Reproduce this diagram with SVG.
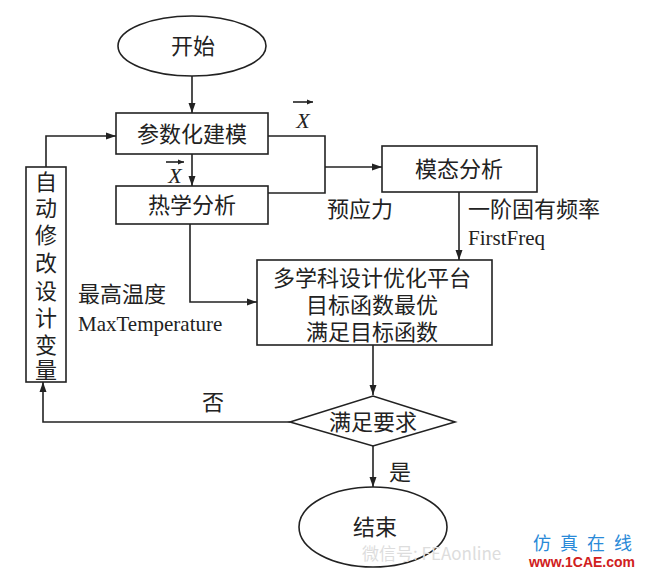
<svg xmlns="http://www.w3.org/2000/svg" width="646" height="571" viewBox="0 0 646 571">
<defs>
<marker id="ar" viewBox="0 0 10 10" refX="10" refY="5" markerWidth="10" markerHeight="10" markerUnits="userSpaceOnUse" orient="auto"><path d="M0,1.5 L10,5 L0,8.5 Z" fill="#222"/></marker>
<marker id="vx" viewBox="0 0 10 10" refX="10" refY="5" markerWidth="6" markerHeight="6" markerUnits="userSpaceOnUse" orient="auto"><path d="M0,1 L10,5 L0,9 Z" fill="#222"/></marker>
<style>
.s{fill:#fff;stroke:#222;stroke-width:1.6}
.c{fill:none;stroke:#222;stroke-width:1.6}
.t{font-family:"Liberation Serif","Noto Sans CJK SC",serif;font-size:22px;fill:#222}
.m{text-anchor:middle;dominant-baseline:central}
.x{font-family:"Liberation Serif",serif;font-style:italic;font-size:22px;fill:#222}
</style>
</defs>
<rect width="646" height="571" fill="#fff"/>
<g id="connectors">
<path class="c" d="M192,76 V113" marker-end="url(#ar)"/>
<path class="c" d="M192,154 V186" marker-end="url(#ar)"/>
<path class="c" d="M268,136 H325 V193 H268"/>
<path class="c" d="M325,167 H382" marker-end="url(#ar)"/>
<path class="c" d="M459,192 V260" marker-end="url(#ar)"/>
<path class="c" d="M190,224 V302 H257" marker-end="url(#ar)"/>
<path class="c" d="M373,345 V395" marker-end="url(#ar)"/>
<path class="c" d="M290,422 H43 V382" marker-end="url(#ar)"/>
<path class="c" d="M46,167 V136 H116" marker-end="url(#ar)"/>
<path class="c" d="M373,445 V487" marker-end="url(#ar)"/>
<text class="x" x="303" y="128" text-anchor="middle">X</text>
<path class="c" d="M293,102 H313" stroke-width="1.2" marker-end="url(#vx)"/>
<text class="x" x="175" y="183" text-anchor="middle">X</text>
<path class="c" d="M166,162 H184" stroke-width="1.2" marker-end="url(#vx)"/>
<text class="t" x="327" y="217">预应力</text>
<text class="t" x="468" y="217">一阶固有频率</text>
<text class="t" x="468" y="245" style="font-size:21px">FirstFreq</text>
<text class="t" x="78" y="302">最高温度</text>
<text class="t" x="78" y="331" style="font-size:21px">MaxTemperature</text>
<text class="t m" x="213" y="402">否</text>
<text class="t m" x="400" y="472">是</text>
</g>
<g id="start"><ellipse class="s" cx="192" cy="46" rx="74" ry="30"/><text class="t m" x="193" y="46">开始</text></g>
<g id="modeling"><rect class="s" x="116" y="113" width="152" height="41"/><text class="t m" x="192" y="134">参数化建模</text></g>
<g id="thermal"><rect class="s" x="116" y="186" width="152" height="38"/><text class="t m" x="192" y="205">热学分析</text></g>
<g id="modal"><rect class="s" x="382" y="146" width="155" height="46"/><text class="t m" x="459" y="169">模态分析</text></g>
<g id="mdo"><rect class="s" x="257" y="260" width="235" height="85"/>
<text class="t m" x="372" y="278">多学科设计优化平台</text>
<text class="t m" x="372" y="305">目标函数最优</text>
<text class="t m" x="372" y="332">满足目标函数</text></g>
<g id="modify"><rect class="s" x="26" y="167" width="40" height="215"/>
<text class="t m" x="46" y="182">自</text><text class="t m" x="46" y="208">动</text><text class="t m" x="46" y="235">修</text><text class="t m" x="46" y="263">改</text><text class="t m" x="46" y="291">设</text><text class="t m" x="46" y="318">计</text><text class="t m" x="46" y="345">变</text><text class="t m" x="46" y="370">量</text></g>
<g id="decision"><polygon class="s" points="290,422 373,396 455,422 373,446"/><text class="t m" x="373" y="422">满足要求</text></g>
<g id="end"><ellipse class="s" cx="373" cy="527" rx="74" ry="40"/><text class="t m" x="375" y="527">结束</text></g>
<g id="watermark">
<text x="362" y="560" style="font-family:'Noto Sans CJK SC',sans-serif;font-size:17px;fill:#ddd">微信号: FEAonline</text>
<text x="533" y="550" style="font-family:'Noto Sans CJK SC',sans-serif;font-size:18px;fill:#2a8ad8;letter-spacing:9px">仿真在线</text>
<text x="582" y="567" text-anchor="middle" style="font-family:'Liberation Sans',sans-serif;font-weight:bold;font-size:14px;fill:#d02020">www.1CAE.com</text>
</g>
</svg>
